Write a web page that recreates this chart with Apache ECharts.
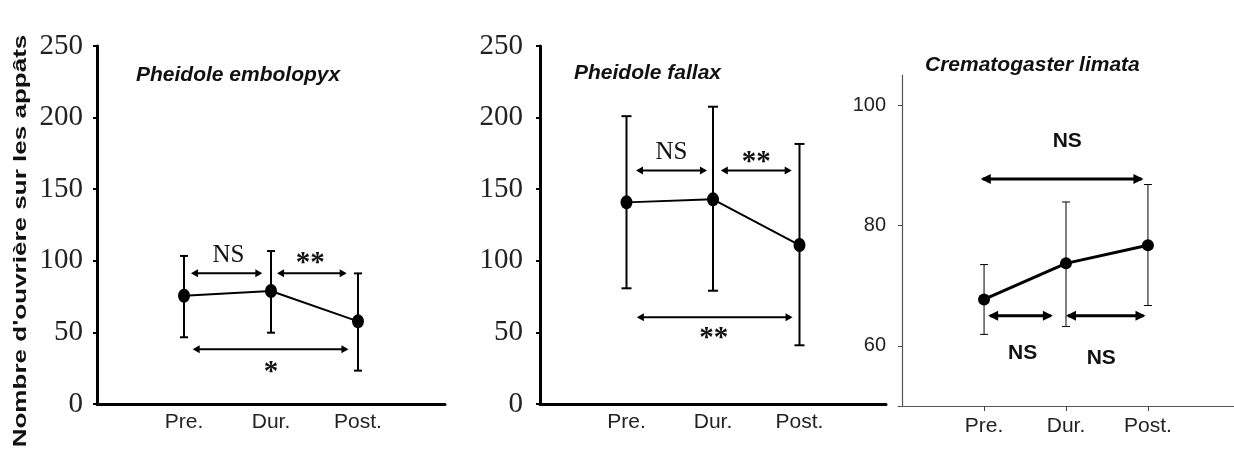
<!DOCTYPE html>
<html>
<head>
<meta charset="utf-8">
<script src="https://cdn.jsdelivr.net/npm/echarts@6/dist/echarts.min.js"></script>
<style>html,body{margin:0;padding:0;background:#fff;}#c{width:1234px;height:450px;}</style>
</head>
<body>
<div id="c"></div>
<script>
// ---------- DATA ----------
const categories = ['Pre.', 'Dur.', 'Post.'];
const yAxisTitle = "Nombre d'ouvrière sur les appâts";
const panelTitles = ['Pheidole embolopyx', 'Pheidole fallax', 'Crematogaster limata'];

// Panel 1 : Pheidole embolopyx
const p1Mean = [75.6, 78.9, 57.7];
const p1Upper = [103.4, 106.8, 91.2];
const p1Lower = [46.6, 49.8, 23.3];
// arrows: [xStart, xEnd, y]
const p1Arrows = [[1.08, 1.90, 91.3], [2.07, 2.87, 91.3], [1.10, 2.89, 38.2]];
// significance labels: [x, y, text]
const p1Labels = [[1.51, 104, 'NS'], [2.45, 98, '**'], [2.0, 22, '*']];

// Panel 2 : Pheidole fallax
const p2Mean = [140.8, 142.9, 111.0];
const p2Upper = [201.0, 207.6, 181.6];
const p2Lower = [80.8, 79.1, 41.0];
const p2Arrows = [[1.11, 1.93, 163], [2.09, 2.91, 163], [1.12, 2.92, 60.5]];
const p2Labels = [[1.52, 176, 'NS'], [2.50, 168.5, '**'], [2.01, 45.5, '**']];

// Panel 3 : Crematogaster limata
const p3Mean = [67.7, 73.7, 76.7];
const p3Upper = [73.5, 83.9, 86.8];
const p3Lower = [61.9, 63.2, 66.7];
const p3Arrows = [[0.96, 2.945, 87.7], [1.05, 1.84, 65], [2.0, 2.97, 65]];
const p3Labels = [[2.015, 94.0, 'NS'], [1.47, 58.8, 'NS'], [2.43, 58.0, 'NS']];

const p3Ticks = [60, 80, 100];

// ---------- HELPERS ----------
const xPos = categories.map((c, i) => i + 1);

function errSeries(gi, lower, upper, cap, lw) {
  return {
    type: 'custom', xAxisIndex: gi, yAxisIndex: gi, z: 2, silent: true,
    data: xPos.map((x, i) => [x, lower[i], upper[i]]),
    encode: { x: 0, y: [1, 2] },
    renderItem: function (params, api) {
      const lo = api.coord([api.value(0), api.value(1)]);
      const hi = api.coord([api.value(0), api.value(2)]);
      const st = { stroke: '#000', lineWidth: lw };
      return { type: 'group', children: [
        { type: 'line', shape: { x1: lo[0], y1: lo[1], x2: hi[0], y2: hi[1] }, style: st },
        { type: 'line', shape: { x1: lo[0] - cap, y1: lo[1], x2: lo[0] + cap, y2: lo[1] }, style: st },
        { type: 'line', shape: { x1: hi[0] - cap, y1: hi[1], x2: hi[0] + cap, y2: hi[1] }, style: st }
      ]};
    }
  };
}

function arrowSeries(gi, arrows, lw, hl, hw) {
  return {
    type: 'custom', xAxisIndex: gi, yAxisIndex: gi, z: 3, silent: true,
    data: arrows,
    encode: { x: [0, 1], y: 2 },
    renderItem: function (params, api) {
      const a = api.coord([api.value(0), api.value(2)]);
      const b = api.coord([api.value(1), api.value(2)]);
      const y = a[1];
      return { type: 'group', children: [
        { type: 'line', shape: { x1: a[0] + 2, y1: y, x2: b[0] - 2, y2: y }, style: { stroke: '#000', lineWidth: lw } },
        { type: 'polygon', shape: { points: [[a[0], y], [a[0] + hl, y - hw], [a[0] + hl, y + hw]] }, style: { fill: '#000' } },
        { type: 'polygon', shape: { points: [[b[0], y], [b[0] - hl, y - hw], [b[0] - hl, y + hw]] }, style: { fill: '#000' } }
      ]};
    }
  };
}

function labelSeries(gi, labels, family, size, weight) {
  return {
    type: 'custom', xAxisIndex: gi, yAxisIndex: gi, z: 4, silent: true,
    data: labels.map(l => [l[0], l[1]]),
    encode: { x: 0, y: 1 },
    renderItem: function (params, api) {
      const p = api.coord([api.value(0), api.value(1)]);
      const txt = labels[params.dataIndex][2];
      const star = txt.indexOf('*') >= 0;
      return { type: 'text', x: p[0], y: p[1], style: {
        text: txt, fill: '#111',
        fontFamily: family, fontSize: star ? size + 4 : size, fontWeight: star ? 'bold' : weight,
        align: 'center', verticalAlign: 'middle', textAlign: 'center', textVerticalAlign: 'middle'
      }};
    }
  };
}

function lineSeries(gi, mean, sym, lw) {
  return {
    type: 'line', xAxisIndex: gi, yAxisIndex: gi, z: 5, silent: true,
    data: xPos.map((x, i) => [x, mean[i]]),
    symbol: 'circle', symbolSize: sym,
    lineStyle: { color: '#000', width: lw },
    itemStyle: { color: '#000' }
  };
}

function xAxisCfg(gi, min, max, thick, ticks) {
  return {
    gridIndex: gi, type: 'value', min: min, max: max,
    splitLine: { show: false },
    axisLine: { show: true, onZero: false, lineStyle: { color: thick ? '#000' : '#555', width: thick ? 3 : 1.2 } },
    axisTick: { show: ticks, customValues: xPos, length: 5, lineStyle: { color: '#444', width: 1 } },
    axisLabel: {
      customValues: xPos, formatter: v => categories[Math.round(v) - 1] || '',
      fontFamily: 'Liberation Sans, Arial, sans-serif', fontSize: 21, color: '#222',
      margin: ticks ? 10 : 8
    }
  };
}

const serif = 'Liberation Serif, Times New Roman, serif';
const sans = 'Liberation Sans, Arial, sans-serif';

const option = {
  animation: false,
  backgroundColor: '#fff',
  title: [
    { text: panelTitles[0], left: 131, top: 60, textStyle: { fontFamily: sans, fontSize: 21, fontStyle: 'italic', fontWeight: 'bold', color: '#111' } },
    { text: panelTitles[1], left: 569, top: 58, textStyle: { fontFamily: sans, fontSize: 21, fontStyle: 'italic', fontWeight: 'bold', color: '#111' } },
    { text: panelTitles[2], left: 920, top: 50, textStyle: { fontFamily: sans, fontSize: 21, fontStyle: 'italic', fontWeight: 'bold', color: '#111' } }
  ],
  graphic: [
    { type: 'text', x: 21, y: 241, rotation: Math.PI / 2, scaleX: 1.37, scaleY: 1,
      style: { text: yAxisTitle, fontFamily: sans, fontSize: 19, fontWeight: 'bold', fill: '#111',
        align: 'center', verticalAlign: 'middle', textAlign: 'center', textVerticalAlign: 'middle' } }
  ],
  grid: [
    { left: 97, top: 46, width: 348, height: 358 },
    { left: 540, top: 46, width: 346, height: 358 },
    { left: 898, top: 75, width: 336, height: 331 }
  ],
  xAxis: [
    xAxisCfg(0, 0, 4, true, false),
    xAxisCfg(1, 0, 4, true, false),
    xAxisCfg(2, -0.05, 4.05, false, true)
  ],
  yAxis: [
    { gridIndex: 0, type: 'value', min: 0, max: 250, interval: 50, splitLine: { show: false },
      axisLine: { show: true, lineStyle: { color: '#000', width: 3 } },
      axisTick: { show: true, length: 4, lineStyle: { color: '#000', width: 2 } },
      axisLabel: { fontFamily: serif, fontSize: 29, color: '#222', margin: 14 } },
    { gridIndex: 1, type: 'value', min: 0, max: 250, interval: 50, splitLine: { show: false },
      axisLine: { show: true, lineStyle: { color: '#000', width: 3 } },
      axisTick: { show: true, length: 4, lineStyle: { color: '#000', width: 2 } },
      axisLabel: { fontFamily: serif, fontSize: 29, color: '#222', margin: 17 } },
    { gridIndex: 2, type: 'value', min: 50, max: 105, splitLine: { show: false },
      axisLine: { show: true, lineStyle: { color: '#555', width: 1.2 } },
      axisTick: { show: true, length: 4, customValues: p3Ticks, lineStyle: { color: '#444', width: 1 } },
      axisLabel: { customValues: p3Ticks, fontFamily: sans, fontSize: 20, color: '#222', margin: 12 } }
  ],
  series: [
    errSeries(0, p1Lower, p1Upper, 4, 2),
    arrowSeries(0, p1Arrows, 2, 7, 4),
    labelSeries(0, p1Labels, serif, 25, 'normal'),
    lineSeries(0, p1Mean, [12, 14], 2),

    errSeries(1, p2Lower, p2Upper, 5, 2),
    arrowSeries(1, p2Arrows, 2, 7, 4),
    labelSeries(1, p2Labels, serif, 25, 'normal'),
    lineSeries(1, p2Mean, [12, 14], 2),

    errSeries(2, p3Lower, p3Upper, 4, 1),
    arrowSeries(2, p3Arrows, 3, 10, 5),
    labelSeries(2, p3Labels, sans, 21, 'bold'),
    lineSeries(2, p3Mean, 12, 3)
  ]
};

const chart = echarts.init(document.getElementById('c'), null, { renderer: 'canvas' });
chart.setOption(option);
</script>
</body>
</html>
